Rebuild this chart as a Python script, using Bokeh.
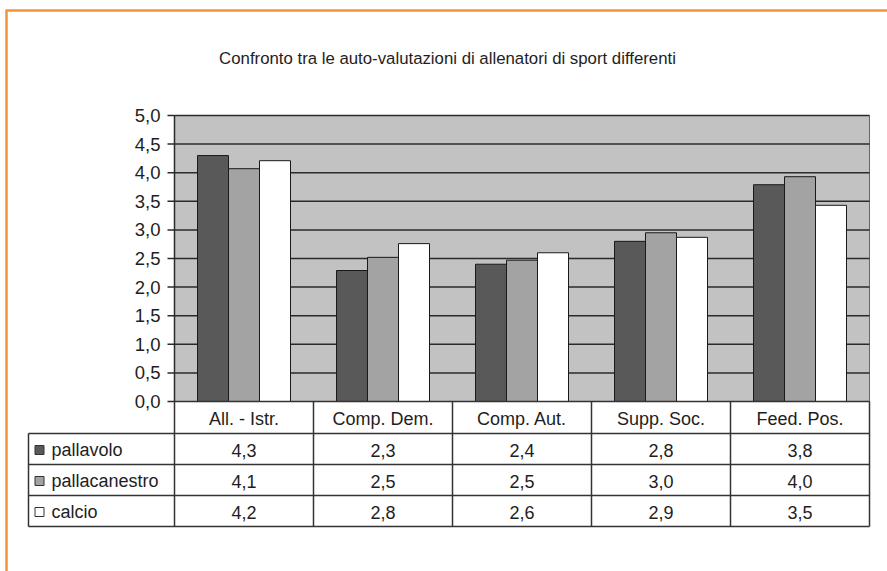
import numpy as np
from bokeh.plotting import figure
from bokeh.models import Range1d, ColumnDataSource
from bokeh.core.properties import value
from bokeh.embed import file_html
from bokeh.resources import INLINE

# ---------------- data ----------------
title_text = "Confronto tra le auto-valutazioni di allenatori di sport differenti"
categories = ["All. - Istr.", "Comp. Dem.", "Comp. Aut.", "Supp. Soc.", "Feed. Pos."]
series_names = ["pallavolo", "pallacanestro", "calcio"]
pallavolo = [4.30, 2.29, 2.40, 2.80, 3.79]
pallacanestro = [4.07, 2.52, 2.47, 2.95, 3.93]
calcio = [4.21, 2.76, 2.60, 2.87, 3.43]
pallavolo_labels = ["4,3", "2,3", "2,4", "2,8", "3,8"]
pallacanestro_labels = ["4,1", "2,5", "2,5", "3,0", "4,0"]
calcio_labels = ["4,2", "2,8", "2,6", "2,9", "3,5"]
y_ticks = [0.0, 0.5, 1.0, 1.5, 2.0, 2.5, 3.0, 3.5, 4.0, 4.5, 5.0]
y_tick_labels = ["0,0", "0,5", "1,0", "1,5", "2,0", "2,5", "3,0", "3,5", "4,0", "4,5", "5,0"]

# ---------------- layout (pixels) ----------------
W, H = 887, 571
PL, PR, PT, PB = 174, 869, 115, 401
NC = len(categories)
CW = (PR - PL) / NC          # px per category
YMAX = 5.0
PPU = (PB - PT) / YMAX       # px per value unit


def xd(px):
    return (px - PL) / CW


def yd(py):
    return (PB - py) / PPU


FONT = value("Liberation Sans")
TXT = "#1e1e1e"
colors = ["#595959", "#a3a3a3", "#ffffff"]
series_vals = [pallavolo, pallacanestro, calcio]
series_labels = [pallavolo_labels, pallacanestro_labels, calcio_labels]

p = figure(width=W, height=H, output_backend="svg", toolbar_location=None,
           x_range=Range1d(xd(0), xd(W)), y_range=Range1d(yd(H), yd(0)),
           min_border=0, outline_line_color=None)
p.axis.visible = False
p.grid.visible = False
p.background_fill_color = "white"
p.border_fill_color = "white"

# orange frame of the picture
p.segment(x0=[xd(5), xd(6)], y0=[yd(10), yd(10)], x1=[xd(W), xd(6)], y1=[yd(10), yd(H)],
          line_color="#f7923a", line_width=2.5)

# title
p.text(x=[xd(447)], y=[yd(58)], text=[title_text], text_font=FONT,
       text_font_size="16.8px", text_align="center", text_baseline="middle", text_color=TXT)

# plot area
p.quad(left=[0], right=[NC], bottom=[0], top=[YMAX], fill_color="#c2c2c2",
       line_color="#666666", line_width=1)

# gridlines
grid_y = [t for t in y_ticks if t > 0]
p.segment(x0=[0] * len(grid_y), x1=[NC] * len(grid_y), y0=grid_y, y1=grid_y,
          line_color="#2a2a2a", line_width=1.5)

# bars
bw = 31 / CW
offsets = [-bw, 0.0, bw]
for vals, col, off in zip(series_vals, colors, offsets):
    xs = [i + 0.5 + off for i in range(NC)]
    p.vbar(x=xs, top=vals, bottom=0, width=bw, fill_color=col,
           line_color="#1a1a1a", line_width=1)

# y axis line, ticks and labels
p.segment(x0=[0], x1=[0], y0=[0], y1=[YMAX], line_color="#2a2a2a", line_width=1.5)
p.segment(x0=[xd(167)] * len(y_ticks), x1=[0] * len(y_ticks), y0=y_ticks, y1=y_ticks,
          line_color="#2a2a2a", line_width=1.5)
p.text(x=[xd(160)] * len(y_ticks), y=y_ticks, text=y_tick_labels, text_font=FONT,
       text_font_size="18.5px", text_align="right", text_baseline="middle", text_color=TXT)

# ---------------- data table ----------------
row_px = [401, 433, 464, 495, 526]
TL = 28
line_col = "#333333"
# horizontal lines
hx0 = [0] + [xd(TL)] * 4
hx1 = [NC] * 5
hy = [yd(r) for r in row_px]
p.segment(x0=hx0, x1=hx1, y0=hy, y1=hy, line_color=line_col, line_width=1.5)
# vertical lines (category columns)
vx = list(range(NC + 1))
p.segment(x0=vx, x1=vx, y0=[0] * len(vx), y1=[yd(row_px[-1])] * len(vx),
          line_color=line_col, line_width=1.5)
p.segment(x0=[xd(TL)], x1=[xd(TL)], y0=[yd(row_px[1])], y1=[yd(row_px[-1])],
          line_color=line_col, line_width=1.5)

# category header
cx = [i + 0.5 for i in range(NC)]
p.text(x=cx, y=[yd((row_px[0] + row_px[1]) / 2 + 1)] * NC, text=categories, text_font=FONT,
       text_font_size="18px", text_align="center", text_baseline="middle", text_color=TXT)

# rows
for k, (name, labs, col) in enumerate(zip(series_names, series_labels, colors)):
    yc = yd((row_px[k + 1] + row_px[k + 2]) / 2 + 1)
    p.text(x=cx, y=[yc] * NC, text=labs, text_font=FONT, text_font_size="18px",
           text_align="center", text_baseline="middle", text_color=TXT)
    p.scatter(x=[xd(39)], y=[yc], marker="square", size=9, fill_color=col,
              line_color="#333333", line_width=1)
    p.text(x=[xd(51)], y=[yc], text=[name], text_font=FONT, text_font_size="18px",
           text_align="left", text_baseline="middle", text_color=TXT)

open("out.html", "w").write(file_html(p, INLINE))
